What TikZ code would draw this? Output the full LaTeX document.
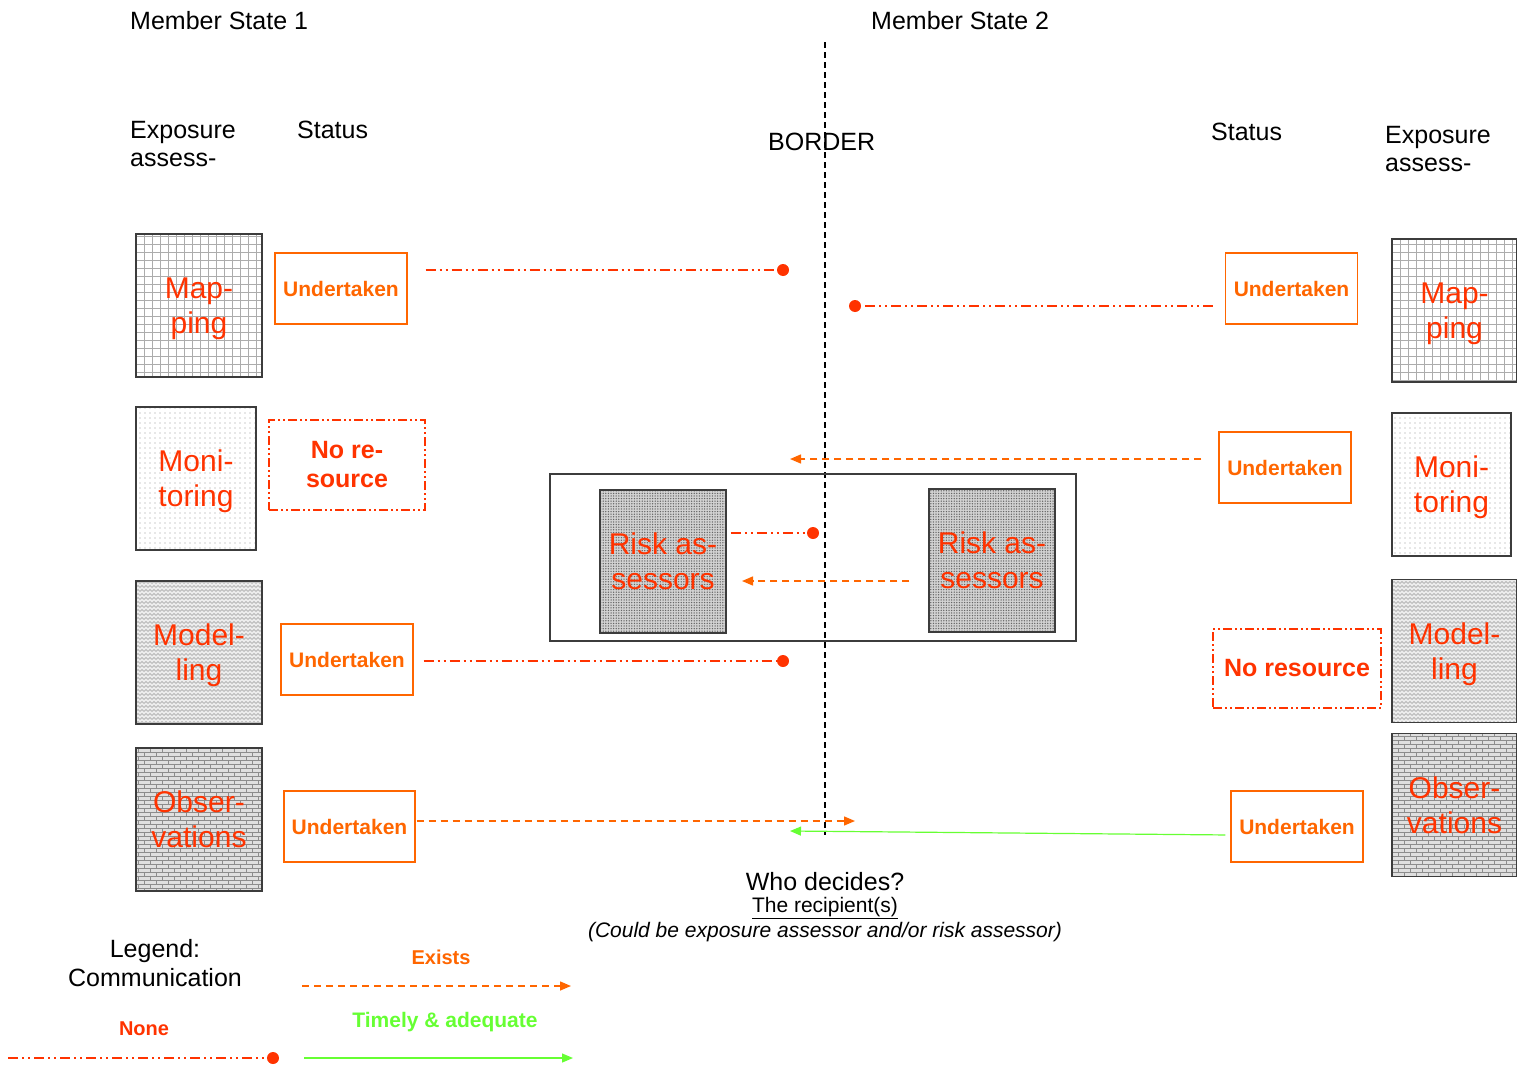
\documentclass[tikz,border=0pt]{standalone}
\usepackage{fontspec}
\setmainfont{Liberation Sans}
\usetikzlibrary{arrows.meta,patterns,positioning}
\definecolor{nonered}{RGB}{255,51,0}
\definecolor{existorange}{RGB}{255,102,0}
\definecolor{timelygreen}{RGB}{102,255,51}
\definecolor{framegray}{RGB}{60,60,60}

% fill patterns of the assessment boxes
\pgfdeclarepatternformonly{mapgrid}{\pgfqpoint{-1pt}{-1pt}}{\pgfqpoint{9pt}{9pt}}{\pgfqpoint{8pt}{8pt}}{%
  \pgfsetlinewidth{0.5pt}%
  \pgfpathmoveto{\pgfqpoint{0pt}{0pt}}\pgfpathlineto{\pgfqpoint{8.1pt}{0pt}}%
  \pgfpathmoveto{\pgfqpoint{0pt}{0pt}}\pgfpathlineto{\pgfqpoint{0pt}{8.1pt}}%
  \pgfusepath{stroke}}
\pgfdeclarepatternformonly{fewdots}{\pgfqpoint{-1pt}{-1pt}}{\pgfqpoint{1pt}{1pt}}{\pgfqpoint{5pt}{5pt}}{%
  \pgfpathcircle{\pgfqpoint{0pt}{0pt}}{0.6pt}\pgfusepath{fill}}
\pgfdeclarepatternformonly{waves}{\pgfqpoint{0pt}{-1pt}}{\pgfqpoint{4pt}{4pt}}{\pgfqpoint{4pt}{4pt}}{%
  \pgfsetlinewidth{0.6pt}%
  \pgfpathmoveto{\pgfqpoint{0pt}{0.5pt}}\pgfpathlineto{\pgfqpoint{2pt}{2.5pt}}\pgfpathlineto{\pgfqpoint{4pt}{0.5pt}}%
  \pgfusepath{stroke}}
\pgfdeclarepatternformonly{brickwall}{\pgfqpoint{-0.5pt}{-0.5pt}}{\pgfqpoint{12.5pt}{8.5pt}}{\pgfqpoint{12pt}{8pt}}{%
  \pgfsetlinewidth{0.7pt}%
  \pgfpathmoveto{\pgfqpoint{0pt}{0pt}}\pgfpathlineto{\pgfqpoint{12pt}{0pt}}%
  \pgfpathmoveto{\pgfqpoint{0pt}{4pt}}\pgfpathlineto{\pgfqpoint{12pt}{4pt}}%
  \pgfpathmoveto{\pgfqpoint{0pt}{0pt}}\pgfpathlineto{\pgfqpoint{0pt}{4pt}}%
  \pgfpathmoveto{\pgfqpoint{6pt}{4pt}}\pgfpathlineto{\pgfqpoint{6pt}{8pt}}%
  \pgfusepath{stroke}}
\pgfdeclarepatternformonly{densedots}{\pgfqpoint{-1pt}{-1pt}}{\pgfqpoint{1pt}{1pt}}{\pgfqpoint{2.6pt}{2.6pt}}{%
  \pgfpathcircle{\pgfqpoint{0pt}{0pt}}{0.75pt}\pgfusepath{fill}}

\begin{document}
\begin{tikzpicture}[x=1pt, y=-1pt,
 title/.style={font=\fontsize{25}{28}\selectfont, inner sep=0pt, align=left, anchor=west},
 note/.style={inner sep=0pt, align=center},
 area/.style={draw=framegray, line width=1.5pt, minimum width=126pt, minimum height=143pt, align=center, text=nonered, font=\fontsize{30}{35}\selectfont, text depth=-4pt},
 status/.style={draw=existorange, line width=1.3pt, minimum width=132pt, minimum height=71pt, text=existorange, font=\bfseries\fontsize{21}{25}\selectfont},
 nores/.style={draw=nonered, line width=1.3pt, dash pattern=on 9pt off 3pt on 2pt off 3pt on 2pt off 3pt, align=center, text=nonered, font=\bfseries\fontsize{25}{29}\selectfont},
 nonecom/.style={nonered, line width=1.4pt, dash pattern=on 10pt off 4pt on 2pt off 4pt on 2pt off 4pt},
 existcom/.style={existorange, line width=1.4pt, dash pattern=on 7pt off 5pt, -{Triangle[length=11pt,width=9pt]}},
 timelycom/.style={timelygreen, line width=1.2pt, -{Triangle[length=11pt,width=9pt]}},
 enddot/.style={circle, fill=nonered, minimum size=12pt, inner sep=0pt}
]
\useasboundingbox (0,0) rectangle (1517,1068);

% Headings
\node[title] (ms1) at (130,21) {Member State 1};
\node[title] (ms2) at (871,21) {Member State 2};
\node[title] (expL) at (130,144) {Exposure\\assess-};
\node[title] (statL) at (297,130) {Status};
\node[title] (border) at (768,142) {BORDER};
\node[title] (statR) at (1211,132) {Status};
\node[title] (expR) at (1385,149) {Exposure\\assess-};

% Border line
\coordinate (borderTop) at (825,42);
\coordinate (borderBot) at (825,835);
\draw[black, line width=1.2pt, dash pattern=on 6pt off 4pt] (borderTop) -- (borderBot);

% Member State 1: exposure assessment
\node[area, pattern=mapgrid, pattern color=gray!65] (mapL) at (199,305.5) {Map-\\ping};
\node[area, minimum width=120pt, pattern=fewdots, pattern color=gray!80] (monL) at (196,478.5) {Moni-\\toring};
\node[area, preaction={fill=gray!15}, pattern=waves, pattern color=gray!75] (modL) at (199,652.5) {Model-\\ling};
\node[area, preaction={fill=gray!25}, pattern=brickwall, pattern color=gray!90] (obsL) at (199,819.5) {Obser-\\vations};

% Member State 1: status
\node[status] (stMapL) at (341,288.5) {Undertaken};
\node[nores, minimum width=156pt, minimum height=90pt] (stMonL) at (347,465) {No re-\\source};
\node[status] (stModL) at (347,659.5) {Undertaken};
\node[status, minimum width=131pt] (stObsL) at (349.5,826.5) {Undertaken};

% Member State 2: exposure assessment
\node[area, minimum width=125pt, pattern=mapgrid, pattern color=gray!65] (mapR) at (1454.5,310.5) {Map-\\ping};
\node[area, minimum width=119pt, pattern=fewdots, pattern color=gray!80] (monR) at (1451.5,484.5) {Moni-\\toring};
\node[area, minimum width=125pt, preaction={fill=gray!15}, pattern=waves, pattern color=gray!75] (modR) at (1454.5,651) {Model-\\ling};
\node[area, minimum width=125pt, preaction={fill=gray!25}, pattern=brickwall, pattern color=gray!90] (obsR) at (1454.5,805) {Obser-\\vations};

% Member State 2: status
\node[status] (stMapR) at (1291.5,288.5) {Undertaken};
\node[status] (stMonR) at (1285,467.5) {Undertaken};
\node[nores, minimum width=168pt, minimum height=79pt] (stModR) at (1297,668.5) {No resource};
\node[status] (stObsR) at (1297,826.5) {Undertaken};

% Risk assessors
\node[draw=framegray, line width=1.3pt, minimum width=526pt, minimum height=167pt] (riskFrame) at (813,557.5) {};
\node[area, preaction={fill=gray!35}, pattern=densedots, pattern color=gray!80!black] (riskL) at (663,561.5) {Risk as-\\sessors};
\node[area, preaction={fill=gray!35}, pattern=densedots, pattern color=gray!80!black] (riskR) at (992,560.5) {Risk as-\\sessors};

% Communication ends
\node[enddot] (dotMapL) at (783,270) {};
\node[enddot] (dotMapR) at (855,306) {};
\node[enddot] (dotRisk) at (813,533) {};
\node[enddot] (dotModL) at (783,661) {};
\coordinate (arrMon) at (790,459);
\coordinate (arrRisk) at (742,581);
\coordinate (arrObsL) at (855,821);
\coordinate (arrObsR) at (790,831);

% Communication
\draw[nonecom, shorten <=18pt] (stMapL.east |- dotMapL) -- (dotMapL);
\draw[nonecom, shorten <=12pt] (stMapR.west |- dotMapR) -- (dotMapR);
\draw[existcom, shorten <=17pt] (stMonR.west |- arrMon) -- (arrMon);
\draw[nonecom, shorten <=4pt] (riskL.east |- dotRisk) -- (dotRisk);
\draw[existcom, shorten <=19pt] (riskR.west |- arrRisk) -- (arrRisk);
\draw[nonecom, shorten <=10pt] (stModL.east |- dotModL) -- (dotModL);
\draw[existcom, shorten <=1pt] (stObsL.east |- arrObsL) -- (arrObsL);
\draw[timelycom, shorten <=5pt] ([yshift=-8.5pt]stObsR.west) -- (arrObsR);

% Who decides
\node[note, font=\fontsize{25}{28}\selectfont] (who) at (825,882) {Who decides?};
\node[note, font=\fontsize{21}{24}\selectfont] (recip) at (825,908) {\underline{The recipient(s)}};
\node[note, font=\itshape\fontsize{21}{24}\selectfont] (could) at (825,932) {(Could be exposure assessor and/or risk assessor)};

% Legend
\node[note, font=\fontsize{25}{29}\selectfont] (legend) at (155,963) {Legend:\\Communication};
\node[note, text=existorange, font=\bfseries\fontsize{20}{24}\selectfont] (lgExists) at (441,957) {Exists};
\node[note, text=nonered, font=\bfseries\fontsize{20}{24}\selectfont] (lgNone) at (144,1029) {None};
\node[note, text=timelygreen, font=\bfseries\fontsize{21}{24}\selectfont] (lgTimely) at (445,1022) {Timely \& adequate};
\coordinate (exA) at (302,986);
\coordinate (exB) at (571,986);
\coordinate (noA) at (8,1058);
\node[enddot] (noB) at (273,1058) {};
\coordinate (tiA) at (304,1058);
\coordinate (tiB) at (573,1058);
\draw[existcom] (exA) -- (exB);
\draw[nonecom] (noA) -- (noB);
\draw[timelycom] (tiA) -- (tiB);

\end{tikzpicture}
\end{document}
